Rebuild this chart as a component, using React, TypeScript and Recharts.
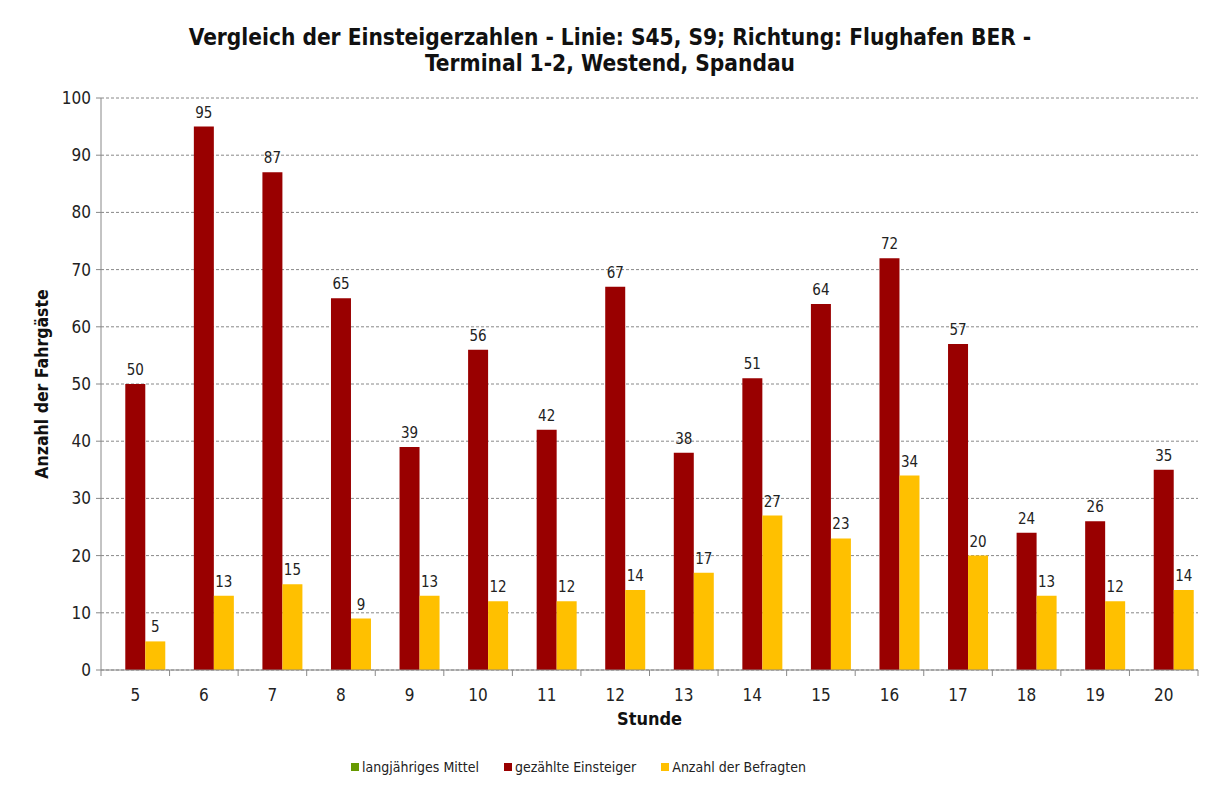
import { Bar, BarChart, CartesianGrid, LabelList, Legend, XAxis, YAxis } from "recharts";

const hours = ["5", "6", "7", "8", "9", "10", "11", "12", "13", "14", "15", "16", "17", "18", "19", "20"];
const langjaehrigesMittel: (number | null)[] = hours.map(() => null);
const gezaehlteEinsteiger = [50, 95, 87, 65, 39, 56, 42, 67, 38, 51, 64, 72, 57, 24, 26, 35];
const anzahlBefragte = [5, 13, 15, 9, 13, 12, 12, 14, 17, 27, 23, 34, 20, 13, 12, 14];
const yTicks = [0, 10, 20, 30, 40, 50, 60, 70, 80, 90, 100];

const data = hours.map((h, i) => ({
  stunde: h,
  mittel: langjaehrigesMittel[i],
  gezaehlt: gezaehlteEinsteiger[i],
  befragt: anzahlBefragte[i],
}));

const FONT = "Tahoma, 'DejaVu Sans Condensed', 'DejaVu Sans', sans-serif";
const W = 1204;
const H = 777;
const MARGIN = { top: 90, right: 14, bottom: 0, left: 0 };
const BAND = (W - 93 - MARGIN.right) / hours.length;

const series = [
  { key: "mittel", name: "langjähriges Mittel", color: "#669900" },
  { key: "gezaehlt", name: "gezählte Einsteiger", color: "#990000" },
  { key: "befragt", name: "Anzahl der Befragten", color: "#FFC000" },
];

function XTick(props: any) {
  const { x, y, payload, index, visibleTicksCount } = props;
  const axisY = y - 8;
  return (
    <g>
      <line x1={x - BAND / 2} x2={x - BAND / 2} y1={axisY} y2={axisY + 6} stroke="#888" />
      {index === visibleTicksCount - 1 && (
        <line x1={x + BAND / 2} x2={x + BAND / 2} y1={axisY} y2={axisY + 6} stroke="#888" />
      )}
      <text x={x} y={axisY + 31} textAnchor="middle" fontSize={17} fill="#222" fontFamily={FONT}>
        {payload.value}
      </text>
    </g>
  );
}

function YTitle(props: any) {
  const { viewBox } = props;
  const cy = viewBox.y + viewBox.height / 2;
  return (
    <text
      x={0}
      y={0}
      transform={`translate(34, ${cy}) rotate(-90)`}
      textAnchor="middle"
      dominantBaseline="central"
      fontSize={17.5}
      fontWeight="bold"
      fill="#111"
      fontFamily={FONT}
    >
      Anzahl der Fahrgäste
    </text>
  );
}

function LegendBox() {
  return (
    <div style={{ display: "flex", justifyContent: "flex-start", paddingLeft: 343, gap: 25, fontFamily: FONT, fontSize: 14, color: "#222" }}>
      {series.map((s) => (
        <span key={s.key} style={{ display: "inline-flex", alignItems: "center" }}>
          <span style={{ width: 8, height: 8, background: s.color, marginRight: 3, display: "inline-block" }} />
          {s.name}
        </span>
      ))}
    </div>
  );
}

export default function App() {
  return (
    <div style={{ position: "relative", width: W, height: H, borderTop: "1px solid #999", borderLeft: "1px solid #999", marginLeft: -1, marginTop: -1, fontFamily: FONT }}>
      <div
        style={{
          position: "absolute",
          top: 16,
          left: 0,
          width: W,
          textAlign: "center",
          fontWeight: "bold",
          fontSize: 22.5,
          lineHeight: "26px",
          color: "#111",
        }}
      >
        Vergleich der Einsteigerzahlen - Linie: S45, S9; Richtung: Flughafen BER -
        <br />
        Terminal 1-2, Westend, Spandau
      </div>
      <BarChart
        width={W}
        height={H}
        data={data}
        margin={MARGIN}
        barCategoryGap="6.25%"
        barGap={0}
      >
        <CartesianGrid vertical={false} stroke="#888" strokeDasharray="3 2" />
        <XAxis
          dataKey="stunde"
          axisLine={{ stroke: "#888" }}
          tickLine={false}
          tickSize={6}
          tickMargin={2}
          tick={<XTick />}
          height={99}
          interval={0}
          label={{ value: "Stunde", position: "insideTop", offset: 42, fontSize: 18, fontWeight: "bold", fill: "#111", fontFamily: FONT }}
        />
        <YAxis
          domain={[0, 100]}
          ticks={yTicks}
          width={93}
          axisLine={{ stroke: "#888" }}
          tickLine={{ stroke: "#888" }}
          tickSize={5}
          tickMargin={5}
          tick={{ fontSize: 17, fill: "#222", fontFamily: FONT }}
          label={<YTitle />}
        />
        <Legend verticalAlign="bottom" content={<LegendBox />} wrapperStyle={{ bottom: 10 }} />
        {series.map((s) => (
          <Bar key={s.key} dataKey={s.key} name={s.name} fill={s.color} isAnimationActive={false}>
            {s.key !== "mittel" && (
              <LabelList dataKey={s.key} position="top" offset={9} fontSize={15} fill="#222" fontFamily={FONT} />
            )}
          </Bar>
        ))}
      </BarChart>
    </div>
  );
}
